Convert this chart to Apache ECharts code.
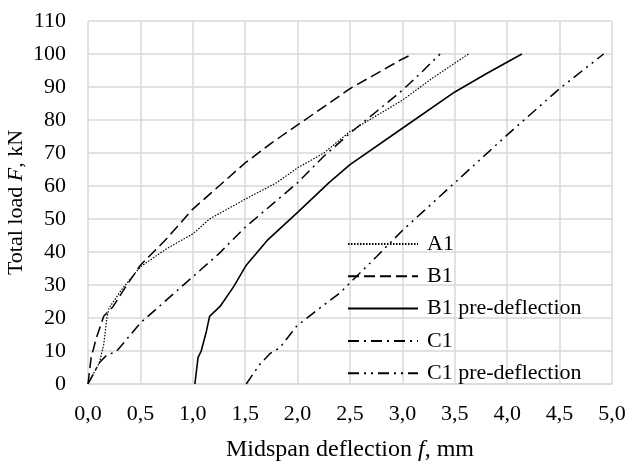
<!DOCTYPE html>
<html>
<head>
<meta charset="utf-8">
<script src="https://cdn.jsdelivr.net/npm/echarts@6/dist/echarts.min.js"></script>
<style>
  html, body { margin: 0; padding: 0; background: #fff; }
  #chart { width: 631px; height: 462px; }
</style>
</head>
<body>
<div id="chart"></div>
<script>
// deflection f (mm), load F (kN)
const a1 = [[0,0],[0.05,3],[0.11,6.5],[0.15,12],[0.18,20],[0.2,23],[0.33,29],[0.5,35.5],[0.75,41],[1.0,45.5],[1.16,50],[1.5,56],[1.8,61],[2.0,65.5],[2.25,70],[2.5,76.5],[3.0,86],[3.3,93],[3.63,100]]
const b1 = [[0,0],[0.03,8],[0.08,14],[0.15,20.5],[0.24,23.5],[0.35,29],[0.5,36],[0.75,44],[1.0,53],[1.25,60],[1.5,67],[1.75,73],[2.0,78.5],[2.25,84],[2.5,89.5],[2.75,94],[3.0,98.5],[3.1,100]]
const b1Pre = [[1.02,0],[1.05,8],[1.08,10],[1.13,16],[1.16,20.5],[1.26,23.5],[1.39,29.5],[1.51,36],[1.71,43.5],[2.0,52],[2.3,61],[2.5,66.5],[3.0,77.5],[3.5,88.5],[3.8,94],[4.14,100]]
const c1 = [[0,0],[0.05,3],[0.11,6.5],[0.18,8.8],[0.27,9.8],[0.5,18.5],[0.75,25.5],[1.0,32.5],[1.25,39.5],[1.5,47.5],[2.0,61],[2.25,69],[2.5,76],[2.75,82.5],[3.0,89],[3.2,95],[3.36,100]]
const c1Pre = [[1.51,0],[1.64,6],[1.74,9.3],[1.83,11],[1.99,17.5],[2.15,21.5],[2.4,27.5],[2.75,38.5],[3.0,46.5],[3.12,50],[3.5,61],[4.0,75.5],[4.5,89.5],[4.92,100]]
const seriesNames = ['A1', 'B1', 'B1 pre-deflection', 'C1', 'C1 pre-deflection']

const font = 'Liberation Serif'
const gridColor = '#d9d9d9'

function line(name, data, width, dash) {
    return {
        name: name,
        type: 'line',
        data: data,
        symbol: 'none',
        lineStyle: { color: '#000', width: width, type: dash },
        itemStyle: { color: '#000' },
    }
}

const chart = echarts.init(document.getElementById('chart'))
chart.setOption({
    animation: false,
    textStyle: { fontFamily: font, color: '#000' },
    grid: { left: 88, right: 19, top: 21, bottom: 78, outerBoundsMode: 'none', containLabel: false },
    legend: {
        orient: 'vertical',
        left: 342,
        top: 228,
        itemWidth: 70,
        itemHeight: 14,
        itemGap: 10.3,
        data: seriesNames,
        itemStyle: { opacity: 0 },
        textStyle: { fontFamily: font, fontSize: 22, color: '#000', padding: [0, 0, 0, 4] },
    },
    xAxis: {
        type: 'value',
        min: 0,
        max: 5,
        interval: 0.5,
        name: 'Midspan deflection {i|f}, mm',
        nameLocation: 'middle',
        nameGap: 54,
        nameMoveOverlap: false,
        nameTextStyle: {
            fontFamily: font, fontSize: 24, color: '#000',
            rich: { i: { fontFamily: font, fontSize: 24, fontStyle: 'italic', color: '#000' } },
        },
        axisLine: { lineStyle: { color: gridColor, width: 1.5 } },
        axisTick: { show: false },
        axisLabel: {
            fontFamily: font, fontSize: 22, color: '#000', margin: 19,
            formatter: (v) => v.toFixed(1).replace('.', ','),
        },
        splitLine: { lineStyle: { color: gridColor, width: 1.5 } },
    },
    yAxis: {
        type: 'value',
        min: 0,
        max: 110,
        interval: 10,
        name: 'Total load {i|F}, kN',
        nameLocation: 'middle',
        nameGap: 61,
        nameMoveOverlap: false,
        nameTextStyle: {
            fontFamily: font, fontSize: 22, color: '#000',
            rich: { i: { fontFamily: font, fontSize: 22, fontStyle: 'italic', color: '#000' } },
        },
        axisLine: { show: false },
        axisTick: { show: false },
        axisLabel: { fontFamily: font, fontSize: 22, color: '#000', margin: 22 },
        splitLine: { lineStyle: { color: gridColor, width: 1.5 } },
    },
    series: [
        line('A1', a1, 1.2, [1.5, 1.5]),
        line('B1', b1, 1.5, [11, 5]),
        line('B1 pre-deflection', b1Pre, 1.6, 'solid'),
        line('C1', c1, 1.5, [11, 5, 2, 5]),
        line('C1 pre-deflection', c1Pre, 1.5, [11, 5, 2, 5, 2, 5]),
    ],
})
</script>
</body>
</html>
